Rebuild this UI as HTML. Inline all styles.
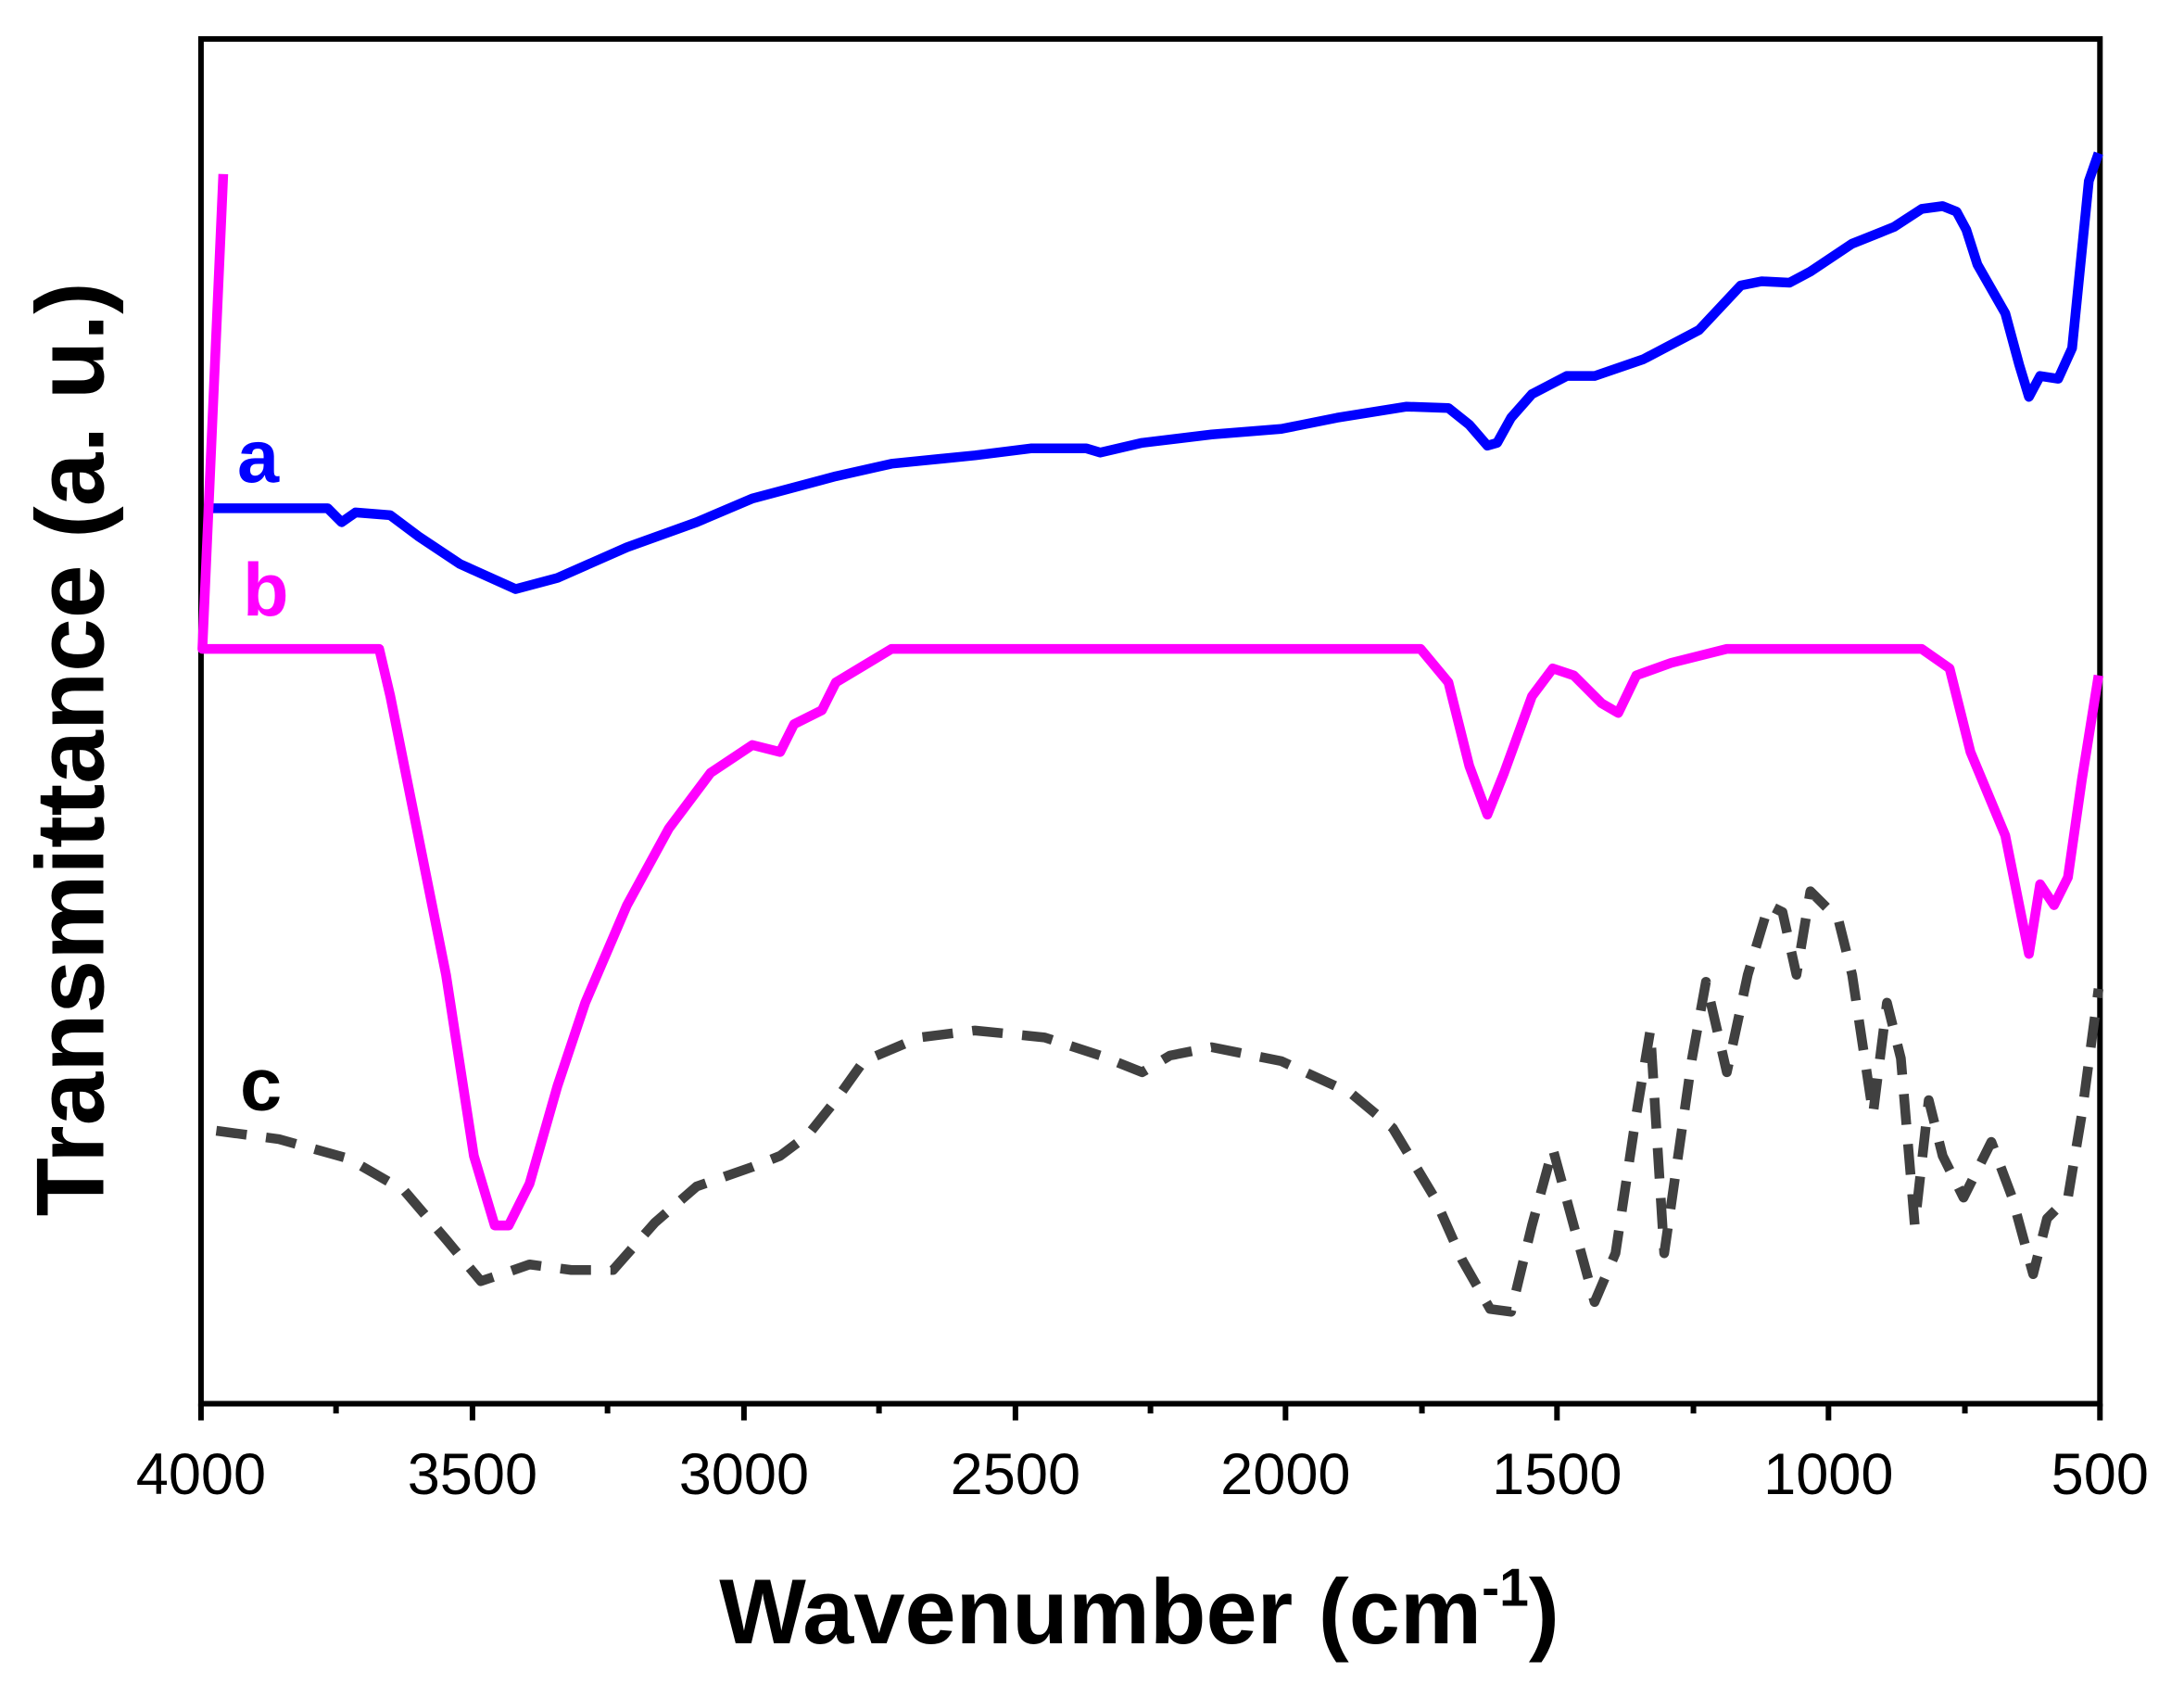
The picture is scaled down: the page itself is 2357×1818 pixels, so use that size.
<!DOCTYPE html>
<html><head><meta charset="utf-8"><style>html,body{margin:0;padding:0;background:#fff}svg{display:block}</style></head>
<body>
<svg width="2357" height="1818" viewBox="0 0 1568 1210" xmlns="http://www.w3.org/2000/svg" font-family="Liberation Sans, Arial, sans-serif">
<rect x="0" y="0" width="1568" height="1210" fill="#fff"/>
<rect x="144" y="28" width="1364" height="980" fill="none" stroke="#000" stroke-width="4"/>
<g stroke="#000" stroke-width="4">
<line x1="144" y1="1008" x2="144" y2="1020"/><line x1="339" y1="1008" x2="339" y2="1020"/><line x1="534" y1="1008" x2="534" y2="1020"/><line x1="729" y1="1008" x2="729" y2="1020"/><line x1="923" y1="1008" x2="923" y2="1020"/><line x1="1118" y1="1008" x2="1118" y2="1020"/><line x1="1313" y1="1008" x2="1313" y2="1020"/><line x1="1508" y1="1008" x2="1508" y2="1020"/>
<line x1="241" y1="1008" x2="241" y2="1015"/><line x1="436" y1="1008" x2="436" y2="1015"/><line x1="631" y1="1008" x2="631" y2="1015"/><line x1="826" y1="1008" x2="826" y2="1015"/><line x1="1021" y1="1008" x2="1021" y2="1015"/><line x1="1216" y1="1008" x2="1216" y2="1015"/><line x1="1411" y1="1008" x2="1411" y2="1015"/>
</g>
<g font-size="42" text-anchor="middle" fill="#000">
<text x="144" y="1073">4000</text><text x="339" y="1073">3500</text><text x="534" y="1073">3000</text><text x="729" y="1073">2500</text><text x="923" y="1073">2000</text><text x="1118" y="1073">1500</text><text x="1313" y="1073">1000</text><text x="1508" y="1073">500</text>
</g>
<text x="818" y="1180" font-size="66" font-weight="bold" text-anchor="middle">Wavenumber (cm<tspan dy="-27" font-size="38">-1</tspan><tspan dy="27">)</tspan></text>
<text transform="translate(74,538) rotate(-90)" font-size="69" font-weight="bold" text-anchor="middle">Transmittance (a. u.)</text>
<polyline fill="none" stroke="#0000ff" stroke-width="7" stroke-linejoin="round" points="150,365 235,365 245,375 255,368 280,370 300,385 330,405 370,423 400,415 450,393 500,375 540,358 600,342 640,333 700,327 740,322 780,322 790,325 820,318 870,312 920,308 960,300 1010,292 1040,293 1055,305 1068,320 1075,318 1085,300 1100,283 1125,270 1145,270 1180,258 1220,237 1250,205 1265,202 1285,203 1300,195 1330,175 1360,163 1380,150 1395,148 1405,152 1412,165 1420,190 1440,225 1450,262 1457,285 1465,270 1478,272 1488,250 1495,180 1500,130 1507,110"/>
<polyline fill="none" stroke="#ff00ff" stroke-width="7" stroke-linejoin="round" points="160,125 145,466 272,466 280,500 300,600 320,700 340,830 355,880 365,880 380,850 400,780 420,720 450,650 480,595 510,555 540,535 560,540 570,520 590,510 600,490 620,478 640,466 1020,466 1040,490 1055,550 1068,585 1080,555 1100,500 1115,480 1130,485 1150,505 1162,512 1175,485 1200,476 1240,466 1380,466 1400,480 1415,540 1440,600 1450,650 1457,685 1465,635 1475,650 1485,630 1495,560 1507,485"/>
<polyline fill="none" stroke="#404040" stroke-width="7" stroke-dasharray="22,14" stroke-linejoin="round" points="155,812 200,818 250,832 290,855 320,890 345,920 360,915 380,908 410,912 440,912 470,878 500,852 540,838 560,830 580,815 600,790 620,762 660,745 700,740 750,745 790,758 820,770 840,758 870,752 920,762 970,785 1000,810 1030,860 1050,905 1070,940 1085,942 1100,880 1115,825 1130,880 1145,935 1160,900 1175,800 1185,740 1195,900 1205,830 1215,760 1225,705 1240,770 1255,700 1270,650 1280,655 1290,700 1300,640 1320,660 1330,700 1345,800 1355,720 1365,760 1375,880 1385,790 1395,830 1410,860 1430,820 1445,860 1460,915 1470,875 1485,860 1495,800 1507,710"/>
<text x="170" y="346" font-size="54" font-weight="bold" fill="#0000ff">a</text>
<text x="174" y="442" font-size="54" font-weight="bold" fill="#ff00ff">b</text>
<text x="172" y="797" font-size="54" font-weight="bold" fill="#000">c</text>
</svg>
</body></html>
